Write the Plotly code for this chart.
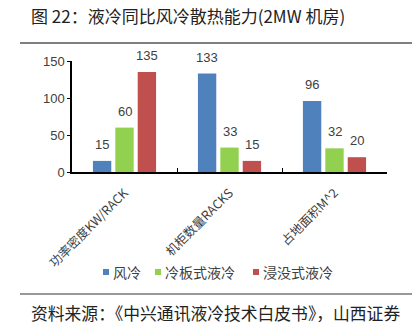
import plotly.graph_objects as go

categories = ["功率密度KW/RACK", "机柜数量RACKS", "占地面积M^2"]
series_names = ["风冷", "冷板式液冷", "浸没式液冷"]
air = [15, 133, 96]
plate = [60, 33, 32]
immersion = [135, 15, 20]
colors = ["#4F81BD", "#92D050", "#C0504D"]
yticks = [0, 50, 100, 150]

W, H = 414, 335
ml, mr, mt, mb = 72, 27, 61, 163
pw, ph = W - ml - mr, H - mt - mb

def px_x(p):
    return (p - ml) / pw
def px_y(p):
    return (H - mb - p) / ph

fig = go.Figure()
series = [air, plate, immersion]
for name, vals, c in zip(series_names, series, colors):
    fig.add_trace(go.Bar(
        x=categories, y=vals, name=name, marker=dict(color=c, line=dict(width=0)),
        showlegend=False,
    ))

# data labels
cat_px = pw / len(categories)
slot = cat_px * (1 - 0.36) / 3
for si, vals in enumerate(series):
    for cat, v in zip(categories, vals):
        fig.add_annotation(x=cat, y=v, xref="x", yref="y", text=str(v),
                           showarrow=False, yanchor="bottom", yshift=7,
                           xshift=(si - 1) * slot,
                           font=dict(size=13, color="#404040", family="Liberation Sans, Arial"))

fig.update_layout(
    width=W, height=H, margin=dict(l=ml, r=mr, t=mt, b=mb),
    paper_bgcolor="white", plot_bgcolor="white",
    barmode="group", bargap=0.36, bargroupgap=0.18,
    font=dict(family="Noto Sans CJK SC", color="#333333"),
    showlegend=False,
    yaxis=dict(range=[0, 150], tickvals=yticks, showgrid=False, zeroline=False,
               showline=True, linecolor="black", linewidth=1.5,
               ticks="outside", ticklen=3, tickcolor="black",
               tickfont=dict(size=13, family="Liberation Sans, Arial", color="#404040")),
    xaxis=dict(showline=True, linecolor="black", linewidth=1.5, mirror=False,
               ticks="inside", ticklen=4, tickcolor="black", tickson="boundaries",
               tickangle=-45, ticklabelstandoff=7,
               tickfont=dict(size=12.5, family="Noto Sans CJK SC", color="#404040")),
)

# custom legend
leg_sq = [103, 155, 253]
for name, c, xs in zip(series_names, colors, leg_sq):
    fig.add_shape(type="rect", xref="paper", yref="paper",
                  x0=px_x(xs), x1=px_x(xs + 6), y0=px_y(275), y1=px_y(269),
                  fillcolor=c, line=dict(width=0))
    fig.add_annotation(text=name, xref="paper", yref="paper", x=px_x(xs + 8), y=px_y(272),
                       xanchor="left", yanchor="middle", showarrow=False,
                       font=dict(size=14, family="Noto Sans CJK SC", color="#404040"))

fig.add_annotation(text="图 22：液冷同比风冷散热能力(2MW 机房)", xref="paper", yref="paper",
                   x=px_x(29), y=px_y(16),
                   xanchor="left", yanchor="middle", showarrow=False,
                   font=dict(size=17, family="Noto Sans CJK SC", color="#222222"))
fig.add_annotation(text="资料来源：《中兴通讯液冷技术白皮书》，山西证券", xref="paper", yref="paper",
                   x=px_x(29), y=px_y(313),
                   xanchor="left", yanchor="middle", showarrow=False,
                   font=dict(size=16.8, family="Noto Sans CJK SC", color="#222222"))

fig.add_shape(type="line", xref="paper", yref="paper", x0=px_x(20), x1=px_x(412),
              y0=px_y(43), y1=px_y(43), line=dict(color="#555555", width=1.5))
fig.add_shape(type="line", xref="paper", yref="paper", x0=px_x(20), x1=px_x(412),
              y0=px_y(294), y1=px_y(294), line=dict(color="#333333", width=1.2))

fig.write_html("out.html")
